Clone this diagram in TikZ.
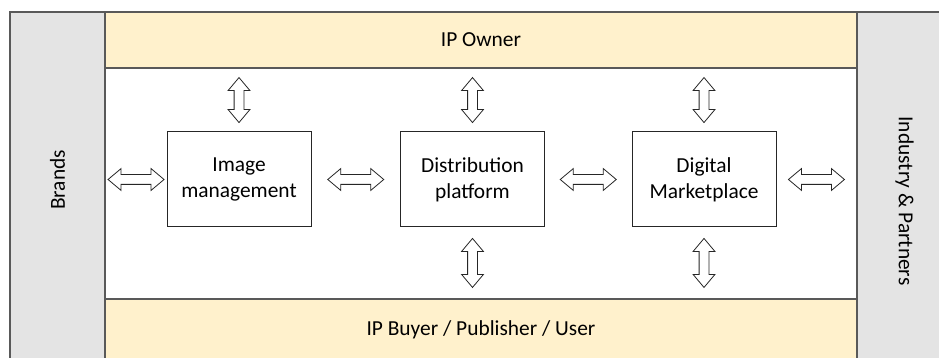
\documentclass[tikz,border=0pt]{standalone}
\usepackage{fontspec}
\setmainfont{Carlito}
\usepackage{xcolor}
\usepackage{tikz}
\usetikzlibrary{positioning,shapes.arrows,calc}

\definecolor{bandgray}{HTML}{E4E4E4}
\definecolor{stripgold}{HTML}{FFF1CC}

\begin{document}
\begin{tikzpicture}[
    x=1pt, y=1pt,
    font=\fontsize{21.4pt}{26pt}\selectfont,
    band/.style={draw=black!65, line width=1.2pt, fill=bandgray, minimum width=95pt, minimum height=380pt},
    strip/.style={draw=black!65, line width=1.2pt, fill=stripgold, minimum width=752pt},
    block/.style={draw=black!85, line width=1pt, align=center, minimum width=144pt, minimum height=95pt},
    darrow/.style={double arrow, draw=black!85, fill=white, line width=0.8pt, inner sep=4.5pt,
        double arrow head extend=6pt, double arrow tip angle=80}
]
\useasboundingbox (0,0) rectangle (939,358);

% side bands and the two strips
\node[band] (brands) at (57.5,156) {};
\node[band] (partners) at (904.5,156) {};
\node[strip, minimum height=56pt] (owner) at (481,318) {IP Owner};
\node[strip, minimum height=62pt] (buyer) at (481,28) {IP Buyer / Publisher / User};
\node[rotate=90] (brandstxt) at (57.5,178) {Brands};
\node[rotate=-90] (partnerstxt) at (904.5,157) {Industry \& Partners};

% the three blocks
\node[block] (img) at (239,178.5) {Image\\management};
\node[block] (dist) at (472.5,178.5) {Distribution\\platform};
\node[block] (market) at (704,178.5) {Digital\\Marketplace};

% horizontal links
\node[darrow, minimum height=56pt] (h1) at ($(brands.east |- img.west)!0.5!(img.west)$) {};
\node[darrow, minimum height=56pt] (h2) at ($(img.east)!0.5!(dist.west)$) {};
\node[darrow, minimum height=56pt] (h3) at ($(dist.east)!0.5!(market.west)$) {};
\node[darrow, minimum height=56pt] (h4) at ($(market.east)!0.5!(partners.west |- market.east)$) {};

% links up to the owner
\foreach \b in {img,dist,market}
  \node[darrow, rotate=90, minimum height=45pt] (up\b) at ($(\b.north |- owner.south)!0.5!(\b.north)$) {};

% links down to the buyer
\foreach \b in {dist,market}
  \node[darrow, rotate=90, minimum height=49pt] (dn\b) at ($(\b.south)!0.5!(\b.south |- buyer.north)$) {};
\end{tikzpicture}
\end{document}
